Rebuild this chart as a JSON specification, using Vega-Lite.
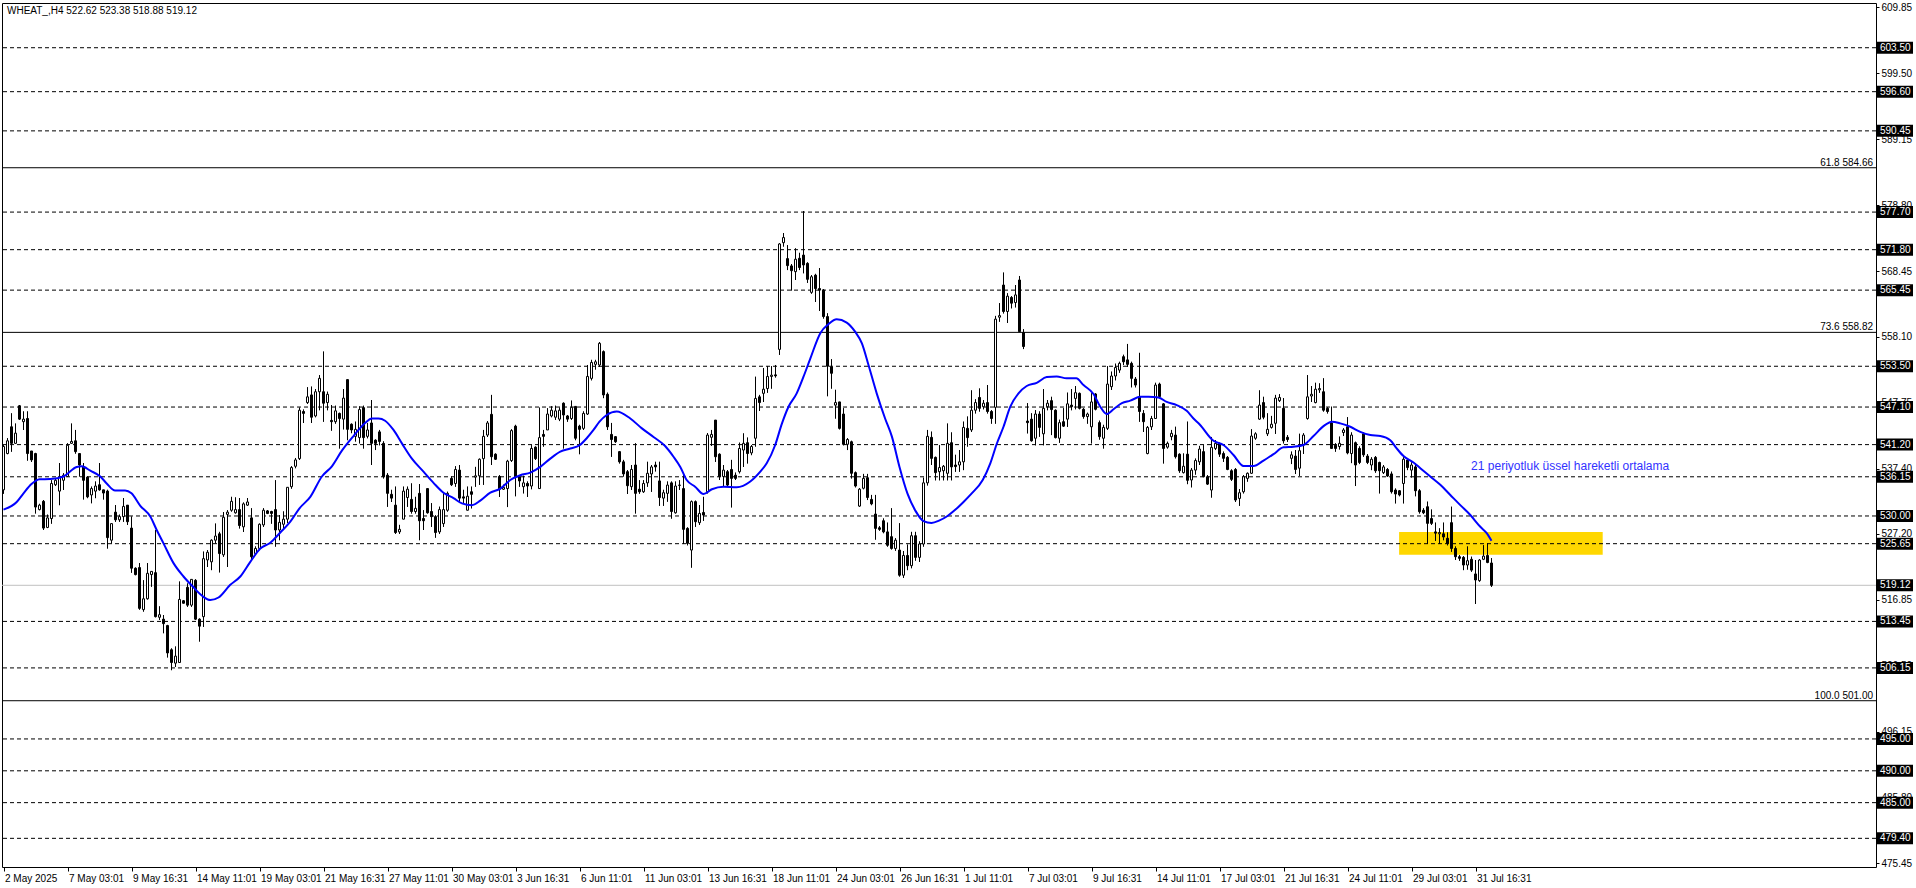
{
"$schema":"https://vega.github.io/schema/vega-lite/v6.json",
"width":1874,"height":864,
"autosize":{"type":"none"},
"padding":{"left":2,"top":3,"right":40,"bottom":21},
"background":"white",
"config":{"view":{"stroke":"black","strokeWidth":1},"axis":{"grid":false,"domain":false,"labelFont":"Liberation Sans","labelFontSize":10,"labelColor":"black","tickColor":"black","title":null}},
"datasets":{
"bars":[
{"i":0,"o":534.1,"h":541.1,"l":533.5,"c":540.9},{"i":1,"o":539.8,"h":542.2,"l":539.7,"c":541.8},{"i":2,"o":544.0,"h":546.1,"l":540.1,"c":541.4},{"i":3,"o":541.4,"h":544.5,"l":541.4,"c":543.0},{"i":4,"o":547.3,"h":547.4,"l":545.1,"c":545.2},{"i":5,"o":544.8,"h":546.4,"l":543.5,"c":545.2},{"i":6,"o":545.3,"h":546.4,"l":538.7,"c":539.8},{"i":7,"o":540.2,"h":540.2,"l":538.5,"c":538.8},{"i":8,"o":539.8,"h":539.9,"l":530.4,"c":531.4},{"i":9,"o":531.0,"h":531.9,"l":530.9,"c":531.7},
{"i":10,"o":532.3,"h":532.5,"l":527.8,"c":528.1},{"i":11,"o":528.2,"h":530.2,"l":528.1,"c":529.7},{"i":12,"o":529.6,"h":535.6,"l":528.8,"c":535.1},{"i":13,"o":534.9,"h":535.8,"l":534.7,"c":535.6},{"i":14,"o":533.9,"h":538.3,"l":531.7,"c":536.2},{"i":15,"o":535.6,"h":536.7,"l":534.1,"c":536.4},{"i":16,"o":536.2,"h":541.4,"l":536.2,"c":541.1},{"i":17,"o":541.4,"h":544.5,"l":541.4,"c":541.7},{"i":18,"o":541.8,"h":543.5,"l":539.8,"c":540.1},{"i":19,"o":539.8,"h":539.8,"l":536.2,"c":538.0},
{"i":20,"o":537.7,"h":538.3,"l":532.6,"c":535.6},{"i":21,"o":536.1,"h":536.2,"l":532.8,"c":533.0},{"i":22,"o":533.3,"h":534.6,"l":532.0,"c":534.3},{"i":23,"o":533.9,"h":535.4,"l":532.8,"c":534.7},{"i":24,"o":534.9,"h":538.3,"l":534.0,"c":534.1},{"i":25,"o":534.1,"h":534.1,"l":532.6,"c":533.6},{"i":26,"o":533.9,"h":534.1,"l":524.9,"c":526.6},{"i":27,"o":526.2,"h":528.8,"l":525.7,"c":528.8},{"i":28,"o":530.6,"h":531.7,"l":529.1,"c":529.4},{"i":29,"o":529.4,"h":530.2,"l":529.1,"c":529.9},
{"i":30,"o":529.9,"h":532.8,"l":529.1,"c":531.5},{"i":31,"o":531.7,"h":531.7,"l":528.6,"c":529.1},{"i":32,"o":528.1,"h":529.9,"l":521.1,"c":521.8},{"i":33,"o":521.8,"h":521.9,"l":520.7,"c":520.8},{"i":34,"o":521.9,"h":522.6,"l":515.3,"c":515.5},{"i":35,"o":515.3,"h":519.9,"l":515.0,"c":517.0},{"i":36,"o":517.0,"h":522.6,"l":516.9,"c":521.0},{"i":37,"o":520.8,"h":521.3,"l":518.9,"c":521.3},{"i":38,"o":521.1,"h":527.8,"l":514.1,"c":514.2},{"i":39,"o":514.1,"h":515.8,"l":513.7,"c":514.5},
{"i":40,"o":513.8,"h":514.45,"l":511.6,"c":513.1},{"i":41,"o":512.8,"h":512.9,"l":507.8,"c":508.5},{"i":42,"o":509.0,"h":509.2,"l":505.8,"c":507.0},{"i":43,"o":506.9,"h":509.5,"l":506.3,"c":508.0},{"i":44,"o":507.0,"h":519.7,"l":507.0,"c":516.9},{"i":45,"o":516.7,"h":516.8,"l":516.3,"c":516.3},{"i":46,"o":518.8,"h":519.4,"l":515.75,"c":516.0},{"i":47,"o":516.0,"h":520.05,"l":515.75,"c":520.05},{"i":48,"o":519.9,"h":520.05,"l":513.7,"c":513.8},{"i":49,"o":513.8,"h":513.9,"l":510.3,"c":512.7},
{"i":50,"o":514.2,"h":524.4,"l":512.6,"c":523.3},{"i":51,"o":523.1,"h":524.65,"l":522.0,"c":524.3},{"i":52,"o":522.8,"h":526.3,"l":521.5,"c":526.2},{"i":53,"o":526.2,"h":528.8,"l":525.7,"c":526.85},{"i":54,"o":527.2,"h":527.5,"l":521.15,"c":524.1},{"i":55,"o":523.9,"h":530.6,"l":523.6,"c":529.8},{"i":56,"o":530.25,"h":530.9,"l":522.0,"c":530.6},{"i":57,"o":530.9,"h":533.0,"l":530.7,"c":532.3},{"i":58,"o":530.5,"h":532.9,"l":530.4,"c":531.0},{"i":59,"o":531.0,"h":532.8,"l":528.05,"c":528.5},
{"i":60,"o":528.3,"h":532.1,"l":527.5,"c":531.9},{"i":61,"o":531.7,"h":532.8,"l":531.6,"c":532.2},{"i":62,"o":529.7,"h":531.2,"l":523.1,"c":523.6},{"i":63,"o":524.1,"h":525.2,"l":523.9,"c":524.9},{"i":64,"o":524.9,"h":528.8,"l":524.65,"c":528.7},{"i":65,"o":528.6,"h":531.2,"l":528.3,"c":530.9},{"i":66,"o":530.8,"h":530.9,"l":530.3,"c":530.4},{"i":67,"o":530.7,"h":530.8,"l":528.8,"c":530.4},{"i":68,"o":531.0,"h":535.6,"l":525.2,"c":527.8},{"i":69,"o":527.8,"h":530.15,"l":526.2,"c":529.0},
{"i":70,"o":528.7,"h":530.7,"l":528.05,"c":529.5},{"i":71,"o":529.5,"h":534.5,"l":528.9,"c":534.5},{"i":72,"o":534.6,"h":537.8,"l":534.3,"c":537.6},{"i":73,"o":537.8,"h":539.1,"l":537.5,"c":538.8},{"i":74,"o":539.0,"h":547.0,"l":538.8,"c":546.6},{"i":75,"o":546.4,"h":546.7,"l":544.6,"c":546.1},{"i":76,"o":547.8,"h":550.2,"l":547.6,"c":548.7},{"i":77,"o":549.0,"h":550.3,"l":544.6,"c":545.5},{"i":78,"o":545.7,"h":549.9,"l":545.5,"c":549.5},{"i":79,"o":549.5,"h":552.1,"l":546.6,"c":551.6},
{"i":80,"o":549.5,"h":555.8,"l":544.8,"c":547.7},{"i":81,"o":547.8,"h":549.5,"l":546.6,"c":549.1},{"i":82,"o":545.0,"h":547.4,"l":543.4,"c":544.8},{"i":83,"o":544.8,"h":547.3,"l":544.5,"c":546.5},{"i":84,"o":546.1,"h":546.2,"l":540.6,"c":545.3},{"i":85,"o":545.2,"h":549.9,"l":543.6,"c":548.5},{"i":86,"o":551.4,"h":551.4,"l":541.9,"c":543.6},{"i":87,"o":544.4,"h":544.5,"l":543.0,"c":543.5},{"i":88,"o":542.5,"h":544.8,"l":541.7,"c":543.6},{"i":89,"o":542.3,"h":547.2,"l":541.4,"c":546.7},
{"i":90,"o":547.0,"h":547.3,"l":540.6,"c":542.3},{"i":91,"o":542.5,"h":544.6,"l":542.2,"c":543.5},{"i":92,"o":544.6,"h":548.2,"l":538.0,"c":541.4},{"i":93,"o":541.9,"h":542.0,"l":540.35,"c":541.4},{"i":94,"o":543.2,"h":543.5,"l":541.1,"c":541.7},{"i":95,"o":541.4,"h":541.7,"l":535.9,"c":536.2},{"i":96,"o":536.4,"h":536.7,"l":531.45,"c":533.55},{"i":97,"o":533.4,"h":534.1,"l":532.2,"c":532.8},{"i":98,"o":531.7,"h":534.6,"l":527.2,"c":527.4},{"i":99,"o":527.5,"h":528.6,"l":527.2,"c":527.9},
{"i":100,"o":529.5,"h":534.6,"l":529.5,"c":533.9},{"i":101,"o":532.9,"h":534.6,"l":531.45,"c":534.2},{"i":102,"o":532.6,"h":535.1,"l":530.4,"c":530.7},{"i":103,"o":530.7,"h":533.0,"l":530.4,"c":531.2},{"i":104,"o":533.55,"h":535.0,"l":526.2,"c":529.25},{"i":105,"o":529.6,"h":530.9,"l":527.8,"c":529.25},{"i":106,"o":534.3,"h":534.3,"l":530.4,"c":530.5},{"i":107,"o":530.7,"h":532.0,"l":528.3,"c":529.9},{"i":108,"o":529.9,"h":530.1,"l":526.6,"c":527.4},{"i":109,"o":527.5,"h":531.45,"l":527.2,"c":531.0},
{"i":110,"o":528.8,"h":533.55,"l":528.3,"c":531.0},{"i":111,"o":530.9,"h":533.8,"l":530.7,"c":533.55},{"i":112,"o":535.9,"h":536.2,"l":534.7,"c":534.9},{"i":113,"o":535.1,"h":537.8,"l":534.6,"c":537.3},{"i":114,"o":537.2,"h":538.0,"l":532.2,"c":532.8},{"i":115,"o":533.0,"h":534.1,"l":532.0,"c":532.8},{"i":116,"o":530.9,"h":534.6,"l":530.9,"c":533.1},{"i":117,"o":533.8,"h":534.6,"l":531.2,"c":533.4},{"i":118,"o":536.1,"h":537.7,"l":534.6,"c":536.3},{"i":119,"o":536.3,"h":539.0,"l":534.9,"c":538.9},
{"i":120,"o":539.0,"h":543.5,"l":534.9,"c":542.5},{"i":121,"o":542.7,"h":544.9,"l":542.4,"c":544.6},{"i":122,"o":545.95,"h":549.0,"l":538.0,"c":539.3},{"i":123,"o":539.7,"h":539.8,"l":538.8,"c":538.9},{"i":124,"o":536.2,"h":536.4,"l":533.0,"c":534.2},{"i":125,"o":534.2,"h":534.9,"l":534.1,"c":534.5},{"i":126,"o":534.3,"h":538.8,"l":531.4,"c":538.6},{"i":127,"o":538.7,"h":543.6,"l":538.5,"c":543.4},{"i":128,"o":544.1,"h":544.3,"l":533.1,"c":536.2},{"i":129,"o":536.2,"h":536.4,"l":534.6,"c":535.5},
{"i":130,"o":534.6,"h":536.3,"l":533.55,"c":535.2},{"i":131,"o":535.1,"h":535.4,"l":533.0,"c":534.7},{"i":132,"o":534.7,"h":541.1,"l":534.2,"c":540.6},{"i":133,"o":540.8,"h":540.9,"l":538.8,"c":539.0},{"i":134,"o":534.3,"h":547.0,"l":534.3,"c":542.3},{"i":135,"o":542.8,"h":543.5,"l":540.9,"c":542.5},{"i":136,"o":543.5,"h":546.9,"l":543.5,"c":546.0},{"i":137,"o":545.7,"h":547.2,"l":545.5,"c":546.6},{"i":138,"o":545.5,"h":547.3,"l":545.1,"c":546.5},{"i":139,"o":545.2,"h":547.0,"l":544.9,"c":546.6},
{"i":140,"o":547.7,"h":547.8,"l":540.6,"c":545.85},{"i":141,"o":545.7,"h":545.85,"l":544.8,"c":545.2},{"i":142,"o":545.3,"h":548.1,"l":545.1,"c":547.05},{"i":143,"o":547.2,"h":547.2,"l":541.9,"c":542.2},{"i":144,"o":544.1,"h":544.3,"l":539.7,"c":543.6},{"i":145,"o":543.75,"h":546.4,"l":543.5,"c":546.1},{"i":146,"o":546.0,"h":553.7,"l":545.85,"c":551.9},{"i":147,"o":551.6,"h":554.5,"l":551.3,"c":554.1},{"i":148,"o":553.8,"h":554.5,"l":553.0,"c":554.2},{"i":149,"o":553.7,"h":557.3,"l":553.4,"c":557.1},
{"i":150,"o":555.8,"h":555.95,"l":548.5,"c":549.0},{"i":151,"o":549.1,"h":549.35,"l":543.5,"c":544.0},{"i":152,"o":542.8,"h":544.6,"l":539.3,"c":542.0},{"i":153,"o":542.45,"h":542.5,"l":541.5,"c":541.65},{"i":154,"o":540.1,"h":540.2,"l":538.25,"c":538.5},{"i":155,"o":538.5,"h":538.8,"l":536.2,"c":536.6},{"i":156,"o":536.95,"h":537.2,"l":533.45,"c":534.75},{"i":157,"o":534.6,"h":538.0,"l":534.1,"c":537.3},{"i":158,"o":538.0,"h":541.4,"l":530.4,"c":533.55},{"i":159,"o":534.2,"h":535.6,"l":533.5,"c":533.8},
{"i":160,"o":533.8,"h":535.6,"l":533.65,"c":535.1},{"i":161,"o":535.2,"h":538.5,"l":534.6,"c":536.7},{"i":162,"o":536.6,"h":538.0,"l":533.8,"c":537.7},{"i":163,"o":538.0,"h":538.5,"l":537.0,"c":537.7},{"i":164,"o":535.5,"h":538.5,"l":531.6,"c":532.9},{"i":165,"o":532.8,"h":534.1,"l":531.6,"c":533.65},{"i":166,"o":533.55,"h":535.4,"l":532.25,"c":534.85},{"i":167,"o":535.2,"h":535.4,"l":529.6,"c":530.7},{"i":168,"o":530.5,"h":535.4,"l":530.4,"c":534.7},{"i":169,"o":534.8,"h":535.6,"l":534.1,"c":534.85},
{"i":170,"o":534.3,"h":536.4,"l":525.6,"c":527.9},{"i":171,"o":528.05,"h":528.2,"l":525.4,"c":525.7},{"i":172,"o":524.65,"h":532.4,"l":521.9,"c":532.25},{"i":173,"o":532.25,"h":532.4,"l":528.3,"c":529.1},{"i":174,"o":528.95,"h":531.7,"l":528.6,"c":530.4},{"i":175,"o":530.55,"h":533.0,"l":529.25,"c":530.15},{"i":176,"o":533.8,"h":543.0,"l":533.55,"c":542.7},{"i":177,"o":542.35,"h":543.5,"l":541.0,"c":542.8},{"i":178,"o":545.05,"h":545.05,"l":538.5,"c":539.3},{"i":179,"o":539.7,"h":539.8,"l":535.65,"c":536.2},
{"i":180,"o":536.2,"h":538.0,"l":534.6,"c":537.2},{"i":181,"o":536.95,"h":537.2,"l":534.6,"c":534.85},{"i":182,"o":537.3,"h":538.8,"l":531.35,"c":535.9},{"i":183,"o":536.4,"h":536.8,"l":535.65,"c":535.9},{"i":184,"o":536.95,"h":541.5,"l":536.7,"c":540.6},{"i":185,"o":540.35,"h":542.95,"l":537.7,"c":541.4},{"i":186,"o":541.5,"h":542.3,"l":538.25,"c":539.8},{"i":187,"o":539.9,"h":541.1,"l":539.55,"c":540.9},{"i":188,"o":542.2,"h":551.85,"l":540.9,"c":548.45},{"i":189,"o":548.7,"h":549.0,"l":546.5,"c":547.8},
{"i":190,"o":549.25,"h":553.2,"l":547.9,"c":549.9},{"i":191,"o":550.0,"h":553.5,"l":549.35,"c":551.9},{"i":192,"o":551.9,"h":553.5,"l":550.0,"c":552.1},{"i":193,"o":552.15,"h":553.7,"l":551.75,"c":552.0},{"i":194,"o":556.15,"h":572.8,"l":555.3,"c":572.7},{"i":195,"o":572.9,"h":574.4,"l":572.3,"c":573.7},{"i":196,"o":570.4,"h":572.5,"l":568.6,"c":569.3},{"i":197,"o":569.25,"h":569.55,"l":565.4,"c":568.5},{"i":198,"o":568.35,"h":572.0,"l":567.05,"c":570.3},{"i":199,"o":570.45,"h":571.3,"l":568.6,"c":569.0},
{"i":200,"o":570.95,"h":577.87,"l":568.1,"c":569.4},{"i":201,"o":569.65,"h":569.8,"l":566.6,"c":567.15},{"i":202,"o":565.1,"h":567.8,"l":564.9,"c":567.55},{"i":203,"o":567.8,"h":568.0,"l":563.6,"c":565.7},{"i":204,"o":565.7,"h":568.9,"l":562.2,"c":565.45},{"i":205,"o":565.45,"h":565.6,"l":561.0,"c":561.3},{"i":206,"o":561.3,"h":561.8,"l":548.8,"c":553.5},{"i":207,"o":553.4,"h":554.6,"l":550.0,"c":552.4},{"i":208,"o":547.4,"h":549.8,"l":545.3,"c":547.8},{"i":209,"o":547.9,"h":547.9,"l":543.6,"c":543.75},
{"i":210,"o":546.0,"h":546.9,"l":541.1,"c":541.25},{"i":211,"o":541.25,"h":542.2,"l":540.35,"c":542.0},{"i":212,"o":541.65,"h":541.8,"l":535.9,"c":536.7},{"i":213,"o":536.8,"h":536.95,"l":534.5,"c":534.7},{"i":214,"o":531.55,"h":534.35,"l":531.45,"c":534.2},{"i":215,"o":534.35,"h":536.6,"l":534.2,"c":535.9},{"i":216,"o":536.0,"h":536.6,"l":532.5,"c":532.9},{"i":217,"o":532.6,"h":533.3,"l":531.7,"c":531.9},{"i":218,"o":530.3,"h":533.3,"l":526.3,"c":528.05},{"i":219,"o":528.15,"h":528.4,"l":527.7,"c":527.9},
{"i":220,"o":529.25,"h":529.6,"l":527.3,"c":527.5},{"i":221,"o":527.5,"h":528.95,"l":525.2,"c":525.4},{"i":222,"o":526.75,"h":531.2,"l":524.75,"c":524.9},{"i":223,"o":524.9,"h":526.5,"l":524.55,"c":526.2},{"i":224,"o":524.65,"h":528.85,"l":520.5,"c":520.7},{"i":225,"o":520.7,"h":524.5,"l":520.3,"c":523.8},{"i":226,"o":523.8,"h":525.5,"l":521.5,"c":522.2},{"i":227,"o":522.2,"h":527.5,"l":521.8,"c":526.9},{"i":228,"o":526.9,"h":527.5,"l":523.0,"c":523.5},{"i":229,"o":523.5,"h":526.0,"l":522.8,"c":525.6},
{"i":230,"o":525.6,"h":536.0,"l":525.2,"c":535.2},{"i":231,"o":535.2,"h":543.5,"l":534.8,"c":542.5},{"i":232,"o":542.34,"h":543.23,"l":538.0,"c":539.04},{"i":233,"o":539.2,"h":539.3,"l":535.6,"c":536.8},{"i":234,"o":536.95,"h":541.1,"l":535.6,"c":537.6},{"i":235,"o":537.1,"h":538.0,"l":535.6,"c":537.8},{"i":236,"o":536.7,"h":544.5,"l":535.6,"c":541.4},{"i":237,"o":541.5,"h":543.1,"l":535.6,"c":537.7},{"i":238,"o":538.0,"h":539.6,"l":536.95,"c":537.75},{"i":239,"o":538.0,"h":540.35,"l":536.95,"c":538.5},
{"i":240,"o":538.5,"h":544.8,"l":537.2,"c":543.9},{"i":241,"o":543.75,"h":545.6,"l":540.9,"c":542.3},{"i":242,"o":543.5,"h":549.7,"l":543.2,"c":546.6},{"i":243,"o":546.6,"h":548.3,"l":546.1,"c":547.8},{"i":244,"o":548.6,"h":550.0,"l":546.4,"c":546.9},{"i":245,"o":547.15,"h":548.2,"l":546.75,"c":547.7},{"i":246,"o":547.8,"h":550.55,"l":546.1,"c":546.4},{"i":247,"o":546.4,"h":546.6,"l":544.5,"c":545.3},{"i":248,"o":547.05,"h":561.4,"l":544.5,"c":560.9},{"i":249,"o":561.2,"h":563.4,"l":560.5,"c":561.45},
{"i":250,"o":566.25,"h":568.2,"l":561.8,"c":562.1},{"i":251,"o":562.1,"h":564.95,"l":560.3,"c":564.5},{"i":252,"o":564.3,"h":564.5,"l":562.6,"c":563.4},{"i":253,"o":563.5,"h":566.25,"l":562.75,"c":564.7},{"i":254,"o":567.04,"h":567.67,"l":558.93,"c":558.93},{"i":255,"o":558.8,"h":559.3,"l":556.2,"c":556.6},{"i":256,"o":544.9,"h":547.7,"l":542.97,"c":544.65},{"i":257,"o":545.2,"h":546.1,"l":541.7,"c":541.8},{"i":258,"o":542.2,"h":546.6,"l":541.1,"c":546.0},{"i":259,"o":546.0,"h":546.4,"l":542.45,"c":543.9},
{"i":260,"o":542.9,"h":549.9,"l":541.1,"c":546.9},{"i":261,"o":547.15,"h":548.2,"l":546.6,"c":547.7},{"i":262,"o":548.1,"h":548.7,"l":542.7,"c":546.7},{"i":263,"o":546.6,"h":546.7,"l":542.2,"c":542.3},{"i":264,"o":542.2,"h":545.1,"l":541.5,"c":544.65},{"i":265,"o":544.8,"h":546.9,"l":544.0,"c":544.1},{"i":266,"o":545.2,"h":549.35,"l":544.0,"c":547.6},{"i":267,"o":547.4,"h":549.9,"l":546.6,"c":547.15},{"i":268,"o":548.45,"h":550.4,"l":546.75,"c":549.35},{"i":269,"o":549.25,"h":549.35,"l":546.75,"c":546.9},
{"i":270,"o":546.75,"h":546.9,"l":545.3,"c":545.6},{"i":271,"o":545.6,"h":546.2,"l":544.5,"c":546.0},{"i":272,"o":544.0,"h":549.25,"l":541.4,"c":547.9},{"i":273,"o":549.15,"h":549.25,"l":546.6,"c":546.75},{"i":274,"o":544.65,"h":544.95,"l":542.0,"c":542.45},{"i":275,"o":542.2,"h":544.3,"l":540.6,"c":543.9},{"i":276,"o":543.75,"h":553.5,"l":543.5,"c":550.7},{"i":277,"o":550.3,"h":552.65,"l":549.8,"c":551.97},{"i":278,"o":551.97,"h":553.9,"l":551.3,"c":553.3},{"i":279,"o":552.9,"h":554.2,"l":552.5,"c":553.96},
{"i":280,"o":555.0,"h":555.3,"l":553.7,"c":554.2},{"i":281,"o":554.5,"h":557.0,"l":553.4,"c":553.8},{"i":282,"o":553.96,"h":554.2,"l":550.2,"c":551.6},{"i":283,"o":551.5,"h":551.8,"l":550.2,"c":550.55},{"i":284,"o":548.7,"h":555.6,"l":544.8,"c":546.4},{"i":285,"o":546.1,"h":546.6,"l":543.2,"c":544.8},{"i":286,"o":539.8,"h":544.1,"l":539.7,"c":543.9},{"i":287,"o":544.0,"h":545.7,"l":543.5,"c":545.3},{"i":288,"o":545.3,"h":550.9,"l":545.3,"c":550.55},{"i":289,"o":550.7,"h":550.9,"l":548.75,"c":548.75},
{"i":290,"o":547.6,"h":547.7,"l":538.25,"c":540.6},{"i":291,"o":540.8,"h":541.65,"l":540.6,"c":541.4},{"i":292,"o":542.45,"h":543.5,"l":541.9,"c":542.97},{"i":293,"o":542.7,"h":544.0,"l":539.05,"c":539.3},{"i":294,"o":539.7,"h":539.8,"l":536.8,"c":537.1},{"i":295,"o":536.8,"h":539.8,"l":536.7,"c":537.8},{"i":296,"o":539.7,"h":544.8,"l":535.0,"c":535.6},{"i":297,"o":535.65,"h":537.5,"l":534.5,"c":537.2},{"i":298,"o":537.2,"h":539.0,"l":536.5,"c":538.7},{"i":299,"o":538.5,"h":541.0,"l":538.0,"c":540.5},
{"i":300,"o":540.1,"h":541.1,"l":536.1,"c":536.16},{"i":301,"o":536.16,"h":536.4,"l":534.9,"c":535.0},{"i":302,"o":534.07,"h":542.4,"l":532.9,"c":540.77},{"i":303,"o":540.6,"h":541.9,"l":540.35,"c":541.4},{"i":304,"o":541.3,"h":541.5,"l":539.3,"c":539.7},{"i":305,"o":539.8,"h":540.1,"l":538.5,"c":539.05},{"i":306,"o":539.2,"h":539.4,"l":537.2,"c":537.3},{"i":307,"o":537.1,"h":537.3,"l":535.5,"c":535.75},{"i":308,"o":537.3,"h":537.5,"l":532.2,"c":532.5},{"i":309,"o":532.75,"h":534.2,"l":531.6,"c":533.65},
{"i":310,"o":533.8,"h":536.4,"l":533.55,"c":536.16},{"i":311,"o":535.9,"h":536.8,"l":535.4,"c":536.7},{"i":312,"o":536.7,"h":543.6,"l":536.6,"c":542.55},{"i":313,"o":542.2,"h":543.1,"l":542.0,"c":542.9},{"i":314,"o":545.2,"h":549.7,"l":545.1,"c":547.4},{"i":315,"o":547.8,"h":548.7,"l":545.2,"c":545.5},{"i":316,"o":542.9,"h":546.1,"l":542.55,"c":543.6},{"i":317,"o":543.9,"h":545.7,"l":543.75,"c":544.4},{"i":318,"o":544.55,"h":549.0,"l":542.9,"c":548.5},{"i":319,"o":548.1,"h":549.1,"l":547.9,"c":548.6},
{"i":320,"o":546.9,"h":548.5,"l":541.4,"c":541.8},{"i":321,"o":542.35,"h":542.7,"l":541.65,"c":542.0},{"i":322,"o":539.05,"h":540.1,"l":538.15,"c":539.6},{"i":323,"o":539.4,"h":540.35,"l":536.6,"c":537.3},{"i":324,"o":537.5,"h":542.9,"l":536.3,"c":540.25},{"i":325,"o":541.15,"h":542.97,"l":539.75,"c":542.7},{"i":326,"o":545.3,"h":552.1,"l":545.15,"c":548.7},{"i":327,"o":548.83,"h":550.4,"l":547.9,"c":549.1},{"i":328,"o":547.8,"h":550.9,"l":547.7,"c":549.9},{"i":329,"o":549.8,"h":550.8,"l":549.35,"c":550.0},
{"i":330,"o":549.5,"h":551.6,"l":546.4,"c":546.6},{"i":331,"o":546.9,"h":547.05,"l":546.1,"c":546.4},{"i":332,"o":544.6,"h":547.15,"l":540.6,"c":540.6},{"i":333,"o":541.1,"h":541.4,"l":540.1,"c":540.6},{"i":334,"o":540.9,"h":542.45,"l":540.45,"c":541.4},{"i":335,"o":543.1,"h":543.75,"l":542.55,"c":543.5},{"i":336,"o":544.0,"h":545.5,"l":539.7,"c":539.9},{"i":337,"o":539.8,"h":543.1,"l":538.3,"c":542.7},{"i":338,"o":541.5,"h":541.65,"l":534.7,"c":538.0},{"i":339,"o":540.6,"h":540.9,"l":538.15,"c":538.4},
{"i":340,"o":542.9,"h":543.1,"l":539.3,"c":539.6},{"i":341,"o":539.4,"h":539.7,"l":538.15,"c":538.4},{"i":342,"o":538.0,"h":539.2,"l":537.2,"c":538.9},{"i":343,"o":539.2,"h":539.4,"l":536.8,"c":537.1},{"i":344,"o":538.4,"h":538.5,"l":533.55,"c":537.1},{"i":345,"o":536.8,"h":538.0,"l":536.6,"c":537.7},{"i":346,"o":537.3,"h":537.5,"l":536.16,"c":536.27},{"i":347,"o":536.6,"h":536.95,"l":533.55,"c":533.8},{"i":348,"o":534.07,"h":534.3,"l":531.98,"c":533.45},{"i":349,"o":533.96,"h":534.07,"l":533.1,"c":533.3},
{"i":350,"o":535.1,"h":539.2,"l":531.98,"c":538.9},{"i":351,"o":538.78,"h":539.0,"l":537.2,"c":537.6},{"i":352,"o":537.2,"h":538.4,"l":536.05,"c":538.0},{"i":353,"o":537.7,"h":538.26,"l":533.1,"c":533.96},{"i":354,"o":533.96,"h":534.2,"l":530.4,"c":530.67},{"i":355,"o":530.9,"h":531.2,"l":530.3,"c":530.5},{"i":356,"o":531.45,"h":532.24,"l":525.6,"c":528.84},{"i":357,"o":529.6,"h":531.0,"l":528.6,"c":528.84},{"i":358,"o":527.5,"h":528.95,"l":526.1,"c":527.3},{"i":359,"o":527.2,"h":528.05,"l":525.6,"c":527.4},
{"i":360,"o":527.2,"h":528.95,"l":526.2,"c":526.7},{"i":361,"o":526.5,"h":527.4,"l":525.4,"c":525.7},{"i":362,"o":528.95,"h":531.45,"l":524.4,"c":524.9},{"i":363,"o":524.9,"h":525.2,"l":523.1,"c":523.6},{"i":364,"o":523.6,"h":523.87,"l":522.98,"c":523.35},{"i":365,"o":523.5,"h":523.7,"l":521.5,"c":522.3},{"i":366,"o":522.3,"h":525.2,"l":521.6,"c":522.98},{"i":367,"o":523.2,"h":523.6,"l":521.25,"c":521.5},{"i":368,"o":520.9,"h":523.08,"l":516.2,"c":519.95},{"i":369,"o":519.85,"h":523.2,"l":519.7,"c":523.08},
{"i":370,"o":523.2,"h":525.4,"l":523.08,"c":523.7},{"i":371,"o":523.8,"h":525.7,"l":522.6,"c":522.7},{"i":372,"o":522.62,"h":523.38,"l":518.88,"c":519.12}
],
"ema":[
{"i":0,"v":531.0},{"i":3.3,"v":532.2},{"i":5,"v":533.55},{"i":7,"v":535.0},{"i":9,"v":535.75},{"i":11.7,"v":535.8},{"i":15,"v":536.2},{"i":18.3,"v":537.7},{"i":19.6,"v":537.8},{"i":21.7,"v":537.1},{"i":24.2,"v":536.2},{"i":25.8,"v":535.1},{"i":27.9,"v":534.0},{"i":30.4,"v":534.0},{"i":32,"v":533.55},{"i":34.2,"v":531.6},{"i":36.7,"v":529.9},{"i":38.3,"v":527.8},{"i":40,"v":525.7},{"i":42.5,"v":522.6},{"i":45,"v":520.5},{"i":47.5,"v":518.8},{"i":50,"v":517.3},{"i":51.7,"v":516.8},{"i":53.75,"v":517.2},{"i":56.7,"v":519.2},{"i":59.2,"v":520.5},{"i":61.7,"v":522.8},{"i":64.2,"v":524.9},{"i":66.7,"v":525.8},{"i":69.2,"v":527.4},{"i":71.7,"v":529.1},{"i":74,"v":531.2},{"i":76.7,"v":533.0},{"i":79.6,"v":536.2},{"i":82.1,"v":537.8},{"i":84.6,"v":540.25},{"i":87.5,"v":542.55},{"i":90.4,"v":544.6},{"i":92.1,"v":545.3},{"i":93.75,"v":545.3},{"i":95.4,"v":544.95},{"i":97.5,"v":543.5},{"i":99.6,"v":541.4},{"i":102.1,"v":539.0},{"i":105,"v":536.95},{"i":107.5,"v":535.2},{"i":110,"v":533.65},{"i":112.5,"v":532.8},{"i":114.6,"v":531.98},{"i":117.1,"v":531.7},{"i":119.2,"v":532.4},{"i":121.7,"v":533.65},{"i":124.2,"v":534.3},{"i":126.7,"v":535.65},{"i":129.2,"v":536.4},{"i":131.7,"v":536.8},{"i":134.2,"v":537.7},{"i":136.7,"v":539.0},{"i":139.2,"v":540.1},{"i":141.7,"v":540.6},{"i":144,"v":541.1},{"i":145.8,"v":542.2},{"i":147.5,"v":543.5},{"i":149,"v":544.8},{"i":150.8,"v":545.85},{"i":153.3,"v":546.4},{"i":156.7,"v":545.3},{"i":159.6,"v":543.75},{"i":162.5,"v":542.4},{"i":165.4,"v":540.98},{"i":167.5,"v":539.3},{"i":169.2,"v":537.7},{"i":170.8,"v":535.65},{"i":172.9,"v":534.6},{"i":175,"v":533.45},{"i":177.1,"v":534.2},{"i":180,"v":534.6},{"i":183.3,"v":534.5},{"i":186.7,"v":535.4},{"i":189.2,"v":536.95},{"i":190.8,"v":538.26},{"i":192.9,"v":541.1},{"i":194.6,"v":544.5},{"i":196.25,"v":547.15},{"i":198.3,"v":549.25},{"i":200,"v":551.86},{"i":201.7,"v":554.7},{"i":204.2,"v":558.7},{"i":206.25,"v":560.1},{"i":208.3,"v":560.86},{"i":210.8,"v":560.35},{"i":212.9,"v":558.93},{"i":214.6,"v":557.1},{"i":216.25,"v":553.7},{"i":218.3,"v":549.25},{"i":220.4,"v":545.3},{"i":222.1,"v":542.45},{"i":224,"v":537.7},{"i":226,"v":533.5},{"i":228,"v":530.8},{"i":230,"v":529.2},{"i":232,"v":528.9},{"i":234,"v":529.3},{"i":236,"v":530.0},{"i":238,"v":531.0},{"i":240,"v":532.2},{"i":242,"v":533.5},{"i":244.8,"v":535.65},{"i":246.7,"v":538.26},{"i":248.3,"v":541.3},{"i":250,"v":544.0},{"i":251.7,"v":547.15},{"i":253.75,"v":549.25},{"i":255.8,"v":550.4},{"i":258.3,"v":550.9},{"i":260.8,"v":551.8},{"i":263.3,"v":551.9},{"i":265.8,"v":551.6},{"i":268.2,"v":551.6},{"i":270,"v":550.55},{"i":272.5,"v":549.15},{"i":274.2,"v":547.15},{"i":275.8,"v":546.0},{"i":277.5,"v":546.75},{"i":279.6,"v":547.7},{"i":281.7,"v":548.1},{"i":284.2,"v":548.7},{"i":286.25,"v":548.7},{"i":288.75,"v":548.6},{"i":290.8,"v":547.9},{"i":293.3,"v":547.4},{"i":295.8,"v":546.5},{"i":297.5,"v":545.3},{"i":299,"v":544.4},{"i":302.5,"v":541.8},{"i":305,"v":541.14},{"i":307.5,"v":539.57},{"i":310,"v":537.84},{"i":312.5,"v":537.84},{"i":315,"v":538.7},{"i":317.5,"v":539.7},{"i":320,"v":540.77},{"i":322.5,"v":540.87},{"i":325,"v":541.14},{"i":327.5,"v":542.55},{"i":330,"v":544.1},{"i":332.1,"v":544.8},{"i":334.2,"v":544.54},{"i":336.7,"v":544.0},{"i":339.2,"v":543.2},{"i":341.7,"v":542.7},{"i":344.2,"v":542.55},{"i":346.7,"v":541.9},{"i":348.3,"v":540.6},{"i":350,"v":539.4},{"i":352.5,"v":538.4},{"i":354.2,"v":537.5},{"i":356.7,"v":536.2},{"i":359.2,"v":534.9},{"i":361.7,"v":533.3},{"i":364.2,"v":531.7},{"i":366.7,"v":530.15},{"i":369.2,"v":528.3},{"i":370.8,"v":527.3},{"i":372,"v":526.1}
],
"levels":[{"p":603.5},{"p":596.6},{"p":590.45},{"p":577.7},{"p":571.8},{"p":565.45},{"p":553.5},{"p":547.1},{"p":541.2},{"p":536.15},{"p":530.0},{"p":525.65},{"p":513.45},{"p":506.15},{"p":495.0},{"p":490.0},{"p":485.0},{"p":479.4}],
"fibs":[{"p":584.66,"t":"61.8 584.66"},{"p":558.82,"t":"73.6 558.82"},{"p":501.0,"t":"100.0 501.00"}],
"boxes":[{"p":603.5},{"p":596.6},{"p":590.45},{"p":577.7},{"p":571.8},{"p":565.45},{"p":553.5},{"p":547.1},{"p":541.2},{"p":536.15},{"p":530.0},{"p":525.65},{"p":519.12},{"p":513.45},{"p":506.15},{"p":495.0},{"p":490.0},{"p":485.0},{"p":479.4}],
"zone":[{"a":348.9,"b":399.8,"p1":523.92,"p2":527.48}]
},
"layer":[
{"data":{"name":"zone"},"mark":{"type":"rect","fill":"#FFD700"},
 "encoding":{"x":{"field":"a","type":"quantitative","title":null,"scale":{"domain":[-0.375,468.125]}},"x2":{"field":"b"},
 "y":{"field":"p1","type":"quantitative","title":null,"scale":{"domain":[474.9,610.52],"zero":false,"nice":false}},"y2":{"field":"p2"}}},
{"data":{"name":"bars"},"mark":{"type":"rule","stroke":"black","strokeWidth":1},
 "encoding":{"x":{"field":"i","type":"quantitative","title":null,"scale":{"domain":[-0.375,468.125]},
   "axis":{"orient":"bottom","values":[0,16,32,48,64,80,96,112,128,144,160,176,192,208,224,240,256,272,288,304,320,336,352,368],"labelExpr":"['2 May 2025','7 May 03:01','9 May 16:31','14 May 11:01','19 May 03:01','21 May 16:31','27 May 11:01','30 May 03:01','3 Jun 16:31','6 Jun 11:01','11 Jun 03:01','13 Jun 16:31','18 Jun 11:01','24 Jun 03:01','26 Jun 16:31','1 Jul 11:01','7 Jul 03:01','9 Jul 16:31','14 Jul 11:01','17 Jul 03:01','21 Jul 16:31','24 Jul 11:01','29 Jul 03:01','31 Jul 16:31'][round(datum.value/16)]","labelAlign":"left","labelBaseline":"top","labelPadding":2,"labelOffset":1,"tickSize":4,"labelFlush":false,"labelOverlap":false,"title":null}},
 "y":{"field":"l","type":"quantitative","title":null,"scale":{"domain":[474.9,610.52],"zero":false,"nice":false},
   "axis":{"orient":"right","values":[609.85,604.75,599.5,594.4,589.15,584.05,578.8,573.7,568.45,563.35,558.1,553.0,547.75,542.65,537.4,532.3,527.2,521.95,516.85,511.6,506.5,501.25,496.15,490.9,485.8,480.55,475.45],"format":".2f","tickSize":3,"labelPadding":2,"labelBaseline":"middle","labelOverlap":false,"labelFlush":false,"title":null}},
 "y2":{"field":"h"}}},
{"data":{"name":"levels"},"mark":{"type":"rule","stroke":"black","strokeWidth":1,"strokeDash":[4,3]},
 "encoding":{"y":{"field":"p","type":"quantitative","title":null,"scale":{"domain":[474.9,610.52],"zero":false,"nice":false}}}},
{"data":{"name":"fibs"},"mark":{"type":"rule","stroke":"black","strokeWidth":1},
 "encoding":{"y":{"field":"p","type":"quantitative","title":null,"scale":{"domain":[474.9,610.52],"zero":false,"nice":false}}}},
{"data":{"values":[{"p":519.12}]},"mark":{"type":"rule","stroke":"#c0c0c0","strokeWidth":1},
 "encoding":{"y":{"field":"p","type":"quantitative","title":null,"scale":{"domain":[474.9,610.52],"zero":false,"nice":false}}}},
{"data":{"name":"bars"},"mark":{"type":"rule","stroke":"black","strokeWidth":1},
 "encoding":{"x":{"field":"i","type":"quantitative","title":null,"scale":{"domain":[-0.375,468.125]}},
 "y":{"field":"l","type":"quantitative","title":null,"scale":{"domain":[474.9,610.52],"zero":false,"nice":false}},"y2":{"field":"h"}}},
{"data":{"name":"bars"},"mark":{"type":"rect","stroke":"black","strokeWidth":1,"xOffset":-1,"x2Offset":1},
 "encoding":{"x":{"field":"i","type":"quantitative","title":null,"scale":{"domain":[-0.375,468.125]}},"x2":{"field":"i"},
 "y":{"field":"o","type":"quantitative","title":null,"scale":{"domain":[474.9,610.52],"zero":false,"nice":false}},"y2":{"field":"c"},
 "fill":{"condition":{"test":"datum.c >= datum.o","value":"white"},"value":"black"}}},
{"data":{"name":"ema"},"mark":{"type":"line","stroke":"#0000FF","strokeWidth":2,"interpolate":"monotone"},
 "encoding":{"x":{"field":"i","type":"quantitative","title":null,"scale":{"domain":[-0.375,468.125]}},
 "y":{"field":"v","type":"quantitative","title":null,"scale":{"domain":[474.9,610.52],"zero":false,"nice":false}}}},
{"data":{"name":"fibs"},"mark":{"type":"text","align":"right","baseline":"alphabetic","dx":-3,"dy":-2,"font":"Liberation Sans","fontSize":10,"fill":"black"},
 "encoding":{"x":{"datum":468.125,"type":"quantitative","title":null,"scale":{"domain":[-0.375,468.125]}},
 "y":{"field":"p","type":"quantitative","title":null,"scale":{"domain":[474.9,610.52],"zero":false,"nice":false}},"text":{"field":"t"}}},
{"data":{"name":"boxes"},"mark":{"type":"rect","fill":"black","xOffset":1,"x2Offset":37,"yOffset":-6,"y2Offset":6},
 "encoding":{"x":{"datum":468.125,"type":"quantitative","title":null,"scale":{"domain":[-0.375,468.125]}},"x2":{"datum":468.125},
 "y":{"field":"p","type":"quantitative","title":null,"scale":{"domain":[474.9,610.52],"zero":false,"nice":false}},"y2":{"field":"p"}}},
{"data":{"name":"boxes"},"mark":{"type":"text","align":"left","baseline":"middle","dx":4,"font":"Liberation Sans","fontSize":10,"fill":"white"},
 "encoding":{"x":{"datum":468.125,"type":"quantitative","title":null,"scale":{"domain":[-0.375,468.125]}},
 "y":{"field":"p","type":"quantitative","title":null,"scale":{"domain":[474.9,610.52],"zero":false,"nice":false}},"text":{"field":"p","format":".2f"}}},
{"data":{"values":[{"t":"WHEAT_,H4  522.62 523.38 518.88 519.12"}]},"mark":{"type":"text","align":"left","baseline":"middle","dx":5,"dy":8,"font":"Liberation Sans","fontSize":10,"fill":"black"},
 "encoding":{"x":{"datum":-0.375,"type":"quantitative","title":null,"scale":{"domain":[-0.375,468.125]}},
 "y":{"datum":610.52,"type":"quantitative","title":null,"scale":{"domain":[474.9,610.52],"zero":false,"nice":false}},"text":{"field":"t"}}},
{"data":{"values":[{"t":"21 periyotluk üssel hareketli ortalama","i":366.9,"p":537.9}]},"mark":{"type":"text","align":"left","baseline":"middle","font":"Liberation Sans","fontSize":12,"fill":"#3232FF"},
 "encoding":{"x":{"field":"i","type":"quantitative","title":null,"scale":{"domain":[-0.375,468.125]}},
 "y":{"field":"p","type":"quantitative","title":null,"scale":{"domain":[474.9,610.52],"zero":false,"nice":false}},"text":{"field":"t"}}}
]
}
